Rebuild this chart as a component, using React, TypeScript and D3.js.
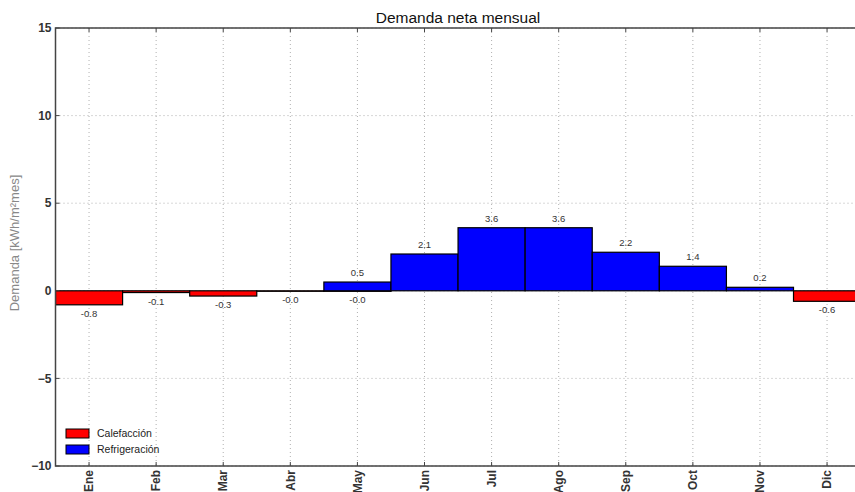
import React from 'react'
import * as d3 from 'd3'

const months = ['Ene', 'Feb', 'Mar', 'Abr', 'May', 'Jun', 'Jul', 'Ago', 'Sep', 'Oct', 'Nov', 'Dic']
// heating (negative) and cooling (positive) demand, null = no bar / no label
const calefaccion: (number | null)[] = [-0.8, -0.1, -0.3, -0.0, -0.0, null, null, null, null, null, null, -0.6]
const refrigeracion: (number | null)[] = [null, null, null, null, 0.5, 2.1, 3.6, 3.6, 2.2, 1.4, 0.2, null]
const yTicks = [-10, -5, 0, 5, 10, 15]

const W = 855
const H = 492
const left = 55.5
const top = 28
const bottom = 466
const right = 860.6

const fmt = (v: number) => (v < 0 || Object.is(v, -0) ? '-' : '') + Math.abs(v).toFixed(1)

const App: React.FC = () => {
  const x = d3.scaleLinear().domain([-0.5, 11.5]).range([left, right])
  const y = d3.scaleLinear().domain([-10, 15]).range([bottom, top])
  const bw = x(1) - x(0)
  const font = 'Liberation Sans, Arial, sans-serif'

  const bars = (vals: (number | null)[], color: string) =>
    vals.map((v, i) =>
      v === null ? null : (
        <rect
          key={color + i}
          x={x(i - 0.5)}
          y={Math.min(y(0), y(v))}
          width={bw}
          height={Math.max(Math.abs(y(v) - y(0)), 0.5)}
          fill={color}
          stroke="#000"
          strokeWidth={1.2}
        />
      )
    )

  const labels = (vals: (number | null)[], key: string) =>
    vals.map((v, i) =>
      v === null ? null : (
        <text
          key={key + i}
          x={x(i)}
          y={v >= 0 && !Object.is(v, -0) ? y(v) - 6 : y(v) + 12}
          textAnchor="middle"
          fontSize={9.5}
          fill="#333"
        >
          {fmt(v)}
        </text>
      )
    )

  return (
    <svg
      width={W}
      height={H}
      style={{ position: 'absolute', left: 0, top: 0, background: '#fff' }}
      fontFamily={font}
    >
      <defs>
        <clipPath id="plot">
          <rect x={left} y={top} width={right - left} height={bottom - top} />
        </clipPath>
      </defs>
      {/* grid */}
      <g stroke="#b0b0b0" strokeDasharray="1,3" strokeWidth={1}>
        {months.map((m, i) => (
          <line key={m} x1={x(i)} x2={x(i)} y1={top} y2={bottom} />
        ))}
        {yTicks.map(t => (
          <line key={t} x1={left} x2={right} y1={y(t)} y2={y(t)} />
        ))}
      </g>
      <g clipPath="url(#plot)">
        {bars(calefaccion, '#ff0000')}
        {bars(refrigeracion, '#0000ff')}
      </g>
      {labels(calefaccion, 'c')}
      {labels(refrigeracion, 'r')}
      {/* frame */}
      <rect x={left} y={top} width={right - left} height={bottom - top} fill="none" stroke="#444" strokeWidth={1.5} />
      {/* ticks */}
      <g stroke="#444" strokeWidth={1}>
        {months.map((m, i) => (
          <g key={m}>
            <line x1={x(i)} x2={x(i)} y1={bottom} y2={bottom - 4} />
            <line x1={x(i)} x2={x(i)} y1={top} y2={top + 4} />
          </g>
        ))}
        {yTicks.map(t => (
          <line key={t} x1={left} x2={left + 4} y1={y(t)} y2={y(t)} />
        ))}
      </g>
      {yTicks.map(t => (
        <text
          key={t}
          x={left - 4}
          y={y(t)}
          dy="0.35em"
          textAnchor="end"
          fontSize={12}
          fontWeight="bold"
          fill="#333"
        >
          {t < 0 ? '\u2212' + Math.abs(t) : t}
        </text>
      ))}
      {months.map((m, i) => (
        <text
          key={m}
          transform={`translate(${x(i)},${bottom + 4}) rotate(-90)`}
          dy="0.35em"
          textAnchor="end"
          fontSize={12}
          fontWeight="bold"
          fill="#333"
        >
          {m}
        </text>
      ))}
      <text
        transform={`translate(14,243) rotate(-90)`}
        textAnchor="middle"
        dy="0.35em"
        fontSize={13}
        fill="#888"
      >
        Demanda [kWh/m²mes]
      </text>
      <text x={458} y={23} textAnchor="middle" fontSize={15.5} fill="#111">
        Demanda neta mensual
      </text>
      {/* legend */}
      <g fontSize={10.5} fill="#222">
        <rect x={66} y={429} width={23} height={9} fill="#ff0000" stroke="#000" />
        <text x={97} y={433.5} dy="0.35em">Calefacción</text>
        <rect x={66} y={445} width={23} height={9} fill="#0000ff" stroke="#000" />
        <text x={97} y={449.5} dy="0.35em">Refrigeración</text>
      </g>
    </svg>
  )
}

export default App
